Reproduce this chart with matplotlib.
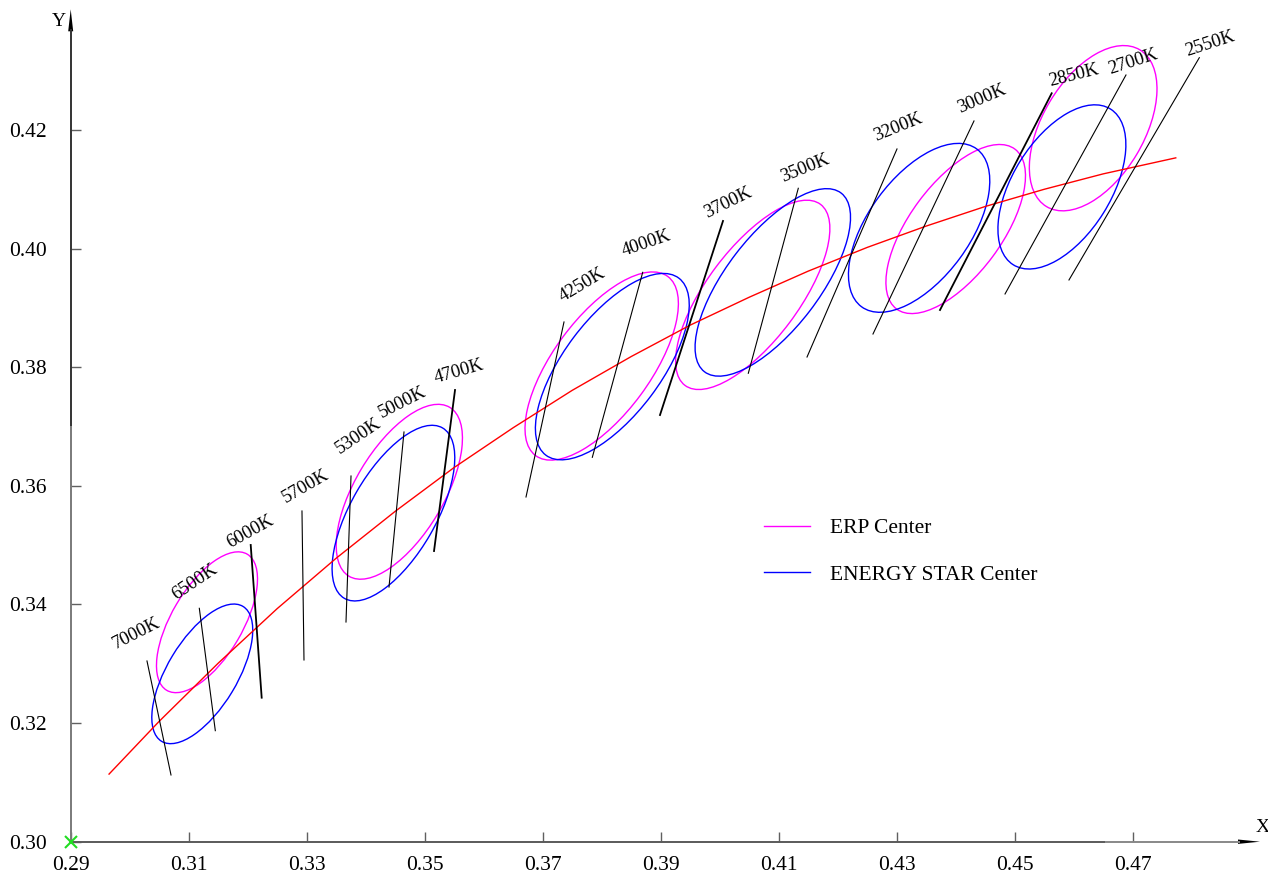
import matplotlib
matplotlib.use("Agg")
import matplotlib.pyplot as plt
from matplotlib.patches import Ellipse, Polygon
from matplotlib.lines import Line2D

plt.rcParams['font.family'] = ['Liberation Serif', 'DejaVu Serif']

# ---------------- data ----------------
x_ticks = [0.29, 0.31, 0.33, 0.35, 0.37, 0.39, 0.41, 0.43, 0.45, 0.47]
y_ticks = [0.30, 0.32, 0.34, 0.36, 0.38, 0.40, 0.42]

# ENERGY STAR centre ellipses
es_cx = [0.3123, 0.3447, 0.3818, 0.4090, 0.4338, 0.4580]
es_cy = [0.3283, 0.3554, 0.3801, 0.3943, 0.4035, 0.4104]
es_a = [0.0133, 0.0166, 0.0187, 0.0190, 0.0165, 0.0155]
es_b = [0.0059, 0.0072, 0.0082, 0.0079, 0.0086, 0.0083]
es_ang = [58.7, 59.9, 52.9, 52.4, 53.7, 57.8]

# ERP centre ellipses
erp_cx = [0.3131, 0.3457, 0.3800, 0.4056, 0.4400, 0.4633]
erp_cy = [0.3370, 0.3590, 0.3802, 0.3922, 0.4033, 0.4203]
erp_a = [0.01335, 0.0166, 0.0188, 0.0191, 0.0168, 0.0154]
erp_b = [0.0060, 0.0075, 0.0082, 0.0078, 0.0078, 0.0086]
erp_ang = [59.2, 59.0, 53.4, 53.0, 53.3, 59.1]

# red locus curve
locus_x = [0.2965, 0.305, 0.315, 0.325, 0.335, 0.345, 0.355, 0.365, 0.375, 0.385,
           0.395, 0.405, 0.415, 0.425, 0.435, 0.445, 0.455, 0.465, 0.4773]
locus_y = [0.3114, 0.3203, 0.3301, 0.3393, 0.3478, 0.3557, 0.3631, 0.3698, 0.3761,
           0.3818, 0.3871, 0.3918, 0.3962, 0.4002, 0.4038, 0.4071, 0.4100, 0.4126, 0.4153]

# isotherm lines (CCT)
cct_labels = ['7000K', '6500K', '6000K', '5700K', '5300K', '5000K', '4700K', '4250K',
              '4000K', '3700K', '3500K', '3200K', '3000K', '2850K', '2700K', '2550K']
iso_x_top = [0.30293, 0.31180, 0.32051, 0.32920, 0.33751, 0.34649, 0.35514, 0.37361,
             0.38695, 0.40056, 0.41332, 0.43005, 0.44310, 0.45627, 0.46886, 0.48129]
iso_y_top = [0.33047, 0.33935, 0.35003, 0.35576, 0.36166, 0.36908, 0.37616, 0.38763,
             0.39600, 0.40466, 0.41017, 0.41680, 0.42152, 0.42619, 0.42927, 0.43219]
iso_x_bot = [0.30700, 0.31451, 0.32237, 0.32954, 0.33666, 0.34395, 0.35158, 0.36717,
             0.37841, 0.38988, 0.40485, 0.41480, 0.42598, 0.43734, 0.44836, 0.45920]
iso_y_bot = [0.31125, 0.31872, 0.32428, 0.33064, 0.33704, 0.34294, 0.34901, 0.35812,
             0.36481, 0.37194, 0.37898, 0.38172, 0.38560, 0.38965, 0.39235, 0.39471]

# ---------------- styles ----------------
label_rot = [27, 34, 29, 30, 34, 27, 16, 31, 19, 26, 22, 22, 23, 14, 18, 18]
label_off = [(-11, 28), (-4, 26), (0, 13), (4, 25), (7, 40), (-1, 30), (4, 18), (18, 37),
             (4, 29), (5, 18), (7, 20), (1, 22), (8, 22), (22, 18), (7, 13), (11, 14)]
# isotherms drawn heavier (doubled) in the reference
heavy = {'6000K', '4700K', '3700K', '2850K'}

W, H = 1268, 874
fig = plt.figure(figsize=(W / 100, H / 100), dpi=100)
L, B, R, T = 70.7, 841.7, 1260.0, 9.3
ax = fig.add_axes([L / W, 1 - B / H, (R - L) / W, (B - T) / H])
ax.set_xlim(0.29, 0.29 + (R - L) / 5900)
ax.set_ylim(0.30, 0.30 + (B - T) / 5931)

for s in ['top', 'right', 'left', 'bottom']:
    ax.spines[s].set_visible(False)

# axis lines (two-tone like the reference)
split_y = (B - 426) / (B - T)
ax.plot([0, 0], [0, split_y], transform=ax.transAxes, color='#7a7a7a', lw=1.4,
        clip_on=False, solid_capstyle='butt')
ax.plot([0, 0], [split_y, 1 - 20 / (B - T)], transform=ax.transAxes, color='#333333',
        lw=1.4, clip_on=False, solid_capstyle='butt')
split_x = (1105 - L) / (R - L)
ax.plot([0, split_x], [0, 0], transform=ax.transAxes, color='#5a5a5a', lw=1.4,
        clip_on=False, solid_capstyle='butt')
ax.plot([split_x, 1 - 20 / (R - L)], [0, 0], transform=ax.transAxes, color='#888888',
        lw=1.4, clip_on=False, solid_capstyle='butt')

ax.set_xticks(x_ticks)
ax.set_xticklabels([f'{v:.2f}' for v in x_ticks])
ax.set_yticks(y_ticks)
ax.set_yticklabels([f'{v:.2f}' for v in y_ticks])
ax.tick_params(axis='both', direction='in', length=7, width=1, color='#606060',
               labelsize=15.5)
ax.tick_params(axis='x', pad=10)
ax.tick_params(axis='y', pad=17)

# ellipses
for cx, cy, a, b, ang in zip(erp_cx, erp_cy, erp_a, erp_b, erp_ang):
    ax.add_patch(Ellipse((cx, cy), 2 * a, 2 * b, angle=ang, fill=False,
                         edgecolor='#ff00ff', lw=1.0))
for cx, cy, a, b, ang in zip(es_cx, es_cy, es_a, es_b, es_ang):
    ax.add_patch(Ellipse((cx, cy), 2 * a, 2 * b, angle=ang, fill=False,
                         edgecolor='#0000ff', lw=1.0))

# locus
ax.plot(locus_x, locus_y, color='#ff0000', lw=1.0, solid_joinstyle='round')

# isotherms + labels
for i, lab in enumerate(cct_labels):
    ax.plot([iso_x_bot[i], iso_x_top[i]], [iso_y_bot[i], iso_y_top[i]],
            color='black', lw=1.3 if lab in heavy else 0.8)
    ax.annotate(lab, xy=(iso_x_top[i], iso_y_top[i]), xytext=label_off[i],
                textcoords='offset pixels', ha='center', va='center',
                rotation=label_rot[i], rotation_mode='anchor', fontsize=13.5)

# origin marker
ax.plot([0.29], [0.30], marker='x', color='#22dd22', markersize=9, mew=1.5,
        clip_on=False, zorder=5)

# axis arrows
aw, ah = R - L, B - T
ax.add_patch(Polygon([(0, 1), (-2.5 / aw, 1 - 22 / ah), (2.5 / aw, 1 - 22 / ah)],
                     closed=True, transform=ax.transAxes, color='black',
                     clip_on=False, lw=0))
ax.add_patch(Polygon([(1, 0), (1 - 22 / aw, 2.2 / ah), (1 - 22 / aw, -2.2 / ah)],
                     closed=True, transform=ax.transAxes, color='black',
                     clip_on=False, lw=0))
fig.text(59 / W, 1 - 22 / H, 'Y', ha='center', va='center', fontsize=14)
fig.text(1263 / W, 1 - 828 / H, 'X', ha='center', va='center', fontsize=14)

# legend
handles = [Line2D([], [], color='#ff00ff', lw=1.0),
           Line2D([], [], color='#0000ff', lw=1.0)]
leg = fig.legend(handles, ['ERP Center', 'ENERGY STAR Center'], loc='upper left',
                 bbox_to_anchor=(764 / W, 1 - 518 / H), frameon=False,
                 fontsize=15.5, handlelength=2.15, handletextpad=0.9,
                 labelspacing=1.24, borderpad=0, borderaxespad=0)

fig.savefig('out.png', dpi=100)
